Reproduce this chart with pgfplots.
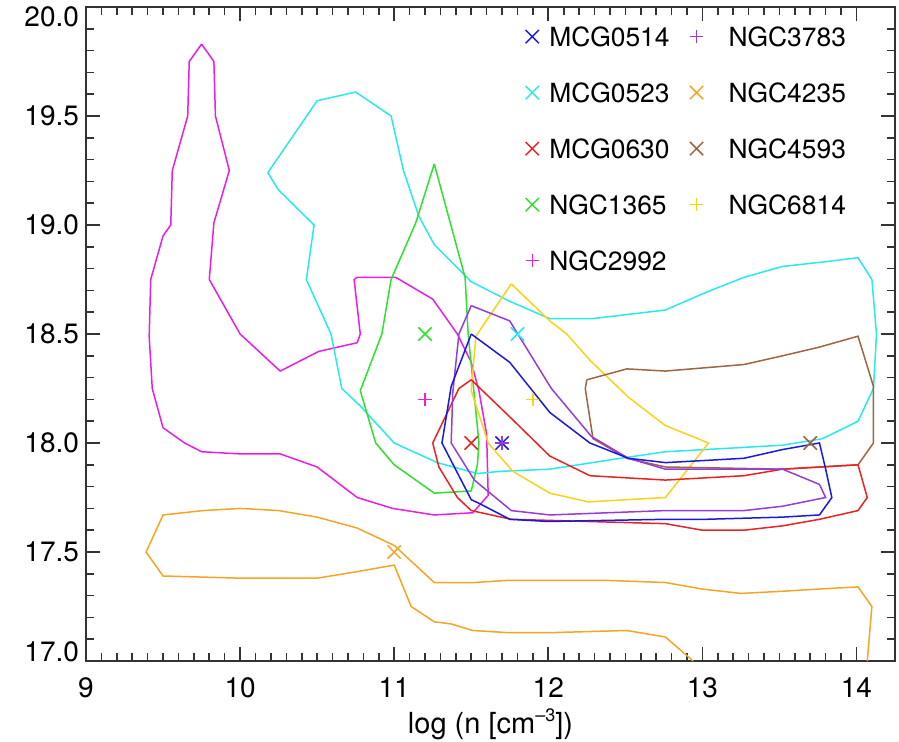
\documentclass[border=0pt]{standalone}
\usepackage{pgfplots}
\pgfplotsset{compat=1.18}
\usepackage{fontspec}
\setmainfont{TeX Gyre Heros}
\definecolor{cblue}{RGB}{25,25,225}
\definecolor{ccyan}{RGB}{40,232,240}
\definecolor{cred}{RGB}{232,35,35}
\definecolor{cgreen}{RGB}{45,225,45}
\definecolor{cmag}{RGB}{230,30,230}
\definecolor{cpurple}{RGB}{150,60,220}
\definecolor{corange}{RGB}{245,165,35}
\definecolor{cbrown}{RGB}{160,100,65}
\definecolor{cyellow}{RGB}{250,210,25}
\newcommand{\yl}[2]{\raisebox{#1}[0pt][0pt]{#2}}
\begin{document}
\begin{tikzpicture}
\path[use as bounding box] (-43pt,-40pt) rectangle (406.5pt,330.5pt);
\begin{axis}[
  at={(0pt,0pt)}, anchor=south west,
  width=404.5pt, height=327pt, scale only axis,
  xmin=9, xmax=14.25, ymin=17, ymax=20,
  xtick={9,10,11,12,13,14},
  ytick={17,17.5,18,18.5,19,19.5,20},
  yticklabels={\yl{0pt}{17.0},\yl{-4.9pt}{17.5},\yl{-4.9pt}{18.0},\yl{-4.9pt}{18.5},\yl{-4.9pt}{19.0},\yl{-4.9pt}{19.5},\yl{-9.7pt}{20.0}},
  minor x tick num=9, minor y tick num=4,
  major tick length=7pt, minor tick length=4pt,
  axis line style={line width=1pt, black!80},
  every tick/.style={line width=0.8pt, black!80},
  tick label style={font=\fontsize{14}{16}\selectfont},
  /pgf/number format/assume math mode=true,
  xticklabel style={yshift=-5pt},
  xlabel={log (n [cm\raisebox{0.75ex}{\fontsize{9}{9}\selectfont --3}])},
  xlabel style={font=\fontsize{14.5}{17}\selectfont, at={(axis description cs:0.5,0)}, anchor=base, yshift=-36pt},
  legend columns=2,
  legend cell align=left,
  legend image code/.code={\path[draw=none,fill=none] (0pt,-3pt) rectangle (11pt,3pt); \draw[mark repeat=2,mark phase=2,#1] plot coordinates {(0pt,0pt)(4.5pt,0pt)(9pt,0pt)};},
  legend style={draw=none, fill=none, inner sep=0pt, at={(0.540,0.976)}, anchor=north west,
    font=\fontsize{13.2}{15}\selectfont, row sep=14.5pt, column sep=0pt,
    nodes={inner sep=2pt, text height=9.5pt, text depth=0pt},
    /tikz/every even column/.append style={column sep=7pt}},
  every axis plot/.append style={line width=0.75pt},
  xmark/.style={only marks, mark=x, mark size=4.7pt},
  pmark/.style={only marks, mark=+, mark size=3.3pt},
]
% contours
\addplot[cmag, forget plot] coordinates {(9.75,19.83) (9.83,19.75) (9.84,19.50) (9.93,19.25) (9.83,19.01) (9.80,18.75) (10.00,18.50) (10.26,18.33) (10.51,18.42) (10.76,18.46) (10.78,18.50) (10.74,18.75) (10.76,18.76) (11.01,18.76) (11.25,18.66) (11.41,18.50) (11.50,18.37) (11.55,18.24) (11.60,18.04) (11.61,17.76) (11.51,17.68) (11.26,17.67) (10.99,17.70) (10.76,17.75) (10.50,17.89) (10.26,17.95) (10.00,17.95) (9.75,17.96) (9.64,18.00) (9.50,18.07) (9.43,18.25) (9.41,18.49) (9.42,18.75) (9.50,18.95) (9.55,19.00) (9.56,19.25) (9.66,19.50) (9.67,19.75) (9.75,19.83)};
\addplot[corange, forget plot] coordinates {(12.94,17.00) (12.76,17.11) (12.51,17.14) (12.01,17.13) (11.74,17.13) (11.51,17.14) (11.37,17.17) (11.26,17.18) (11.11,17.25) (11.00,17.44) (10.76,17.41) (10.50,17.38) (10.25,17.38) (10.00,17.38) (9.50,17.39) (9.39,17.50) (9.50,17.67) (9.76,17.69) (10.00,17.70) (10.25,17.69) (10.50,17.66) (10.76,17.61) (11.00,17.53) (11.26,17.36) (11.52,17.36) (11.74,17.37) (12.00,17.37) (12.37,17.37) (12.76,17.36) (13.00,17.33) (13.25,17.31) (13.52,17.32) (13.75,17.33) (14.01,17.34) (14.10,17.25) (14.07,17.00)};
\addplot[ccyan, forget plot] coordinates {(10.18,19.24) (10.50,19.57) (10.75,19.61) (10.98,19.50) (11.06,19.25) (11.16,19.04) (11.26,18.91) (11.50,18.74) (11.75,18.65) (12.01,18.57) (12.28,18.57) (12.76,18.61) (13.02,18.69) (13.27,18.76) (13.52,18.81) (13.78,18.83) (14.01,18.85) (14.10,18.75) (14.13,18.50) (14.11,18.25) (14.01,18.10) (13.78,18.02) (13.52,17.99) (13.27,17.98) (13.02,17.97) (12.76,17.96) (12.47,17.93) (12.01,17.88) (11.69,17.87) (11.54,17.86) (11.28,17.91) (11.00,18.00) (10.78,18.17) (10.66,18.25) (10.59,18.50) (10.43,18.75) (10.48,19.00) (10.25,19.16) (10.18,19.24)};
\addplot[cgreen, forget plot] coordinates {(11.26,19.28) (11.46,18.76) (11.48,18.50) (11.51,18.29) (11.55,18.00) (11.54,17.90) (11.50,17.78) (11.26,17.77) (11.00,17.90) (10.88,18.00) (10.78,18.24) (10.92,18.50) (10.98,18.75) (11.14,19.01) (11.26,19.28)};
\addplot[cyellow, forget plot] coordinates {(11.76,18.73) (12.01,18.56) (12.12,18.50) (12.27,18.38) (12.52,18.21) (12.76,18.08) (13.04,18.00) (12.76,17.75) (12.26,17.73) (12.01,17.77) (11.77,17.87) (11.61,18.00) (11.50,18.24) (11.53,18.49) (11.76,18.73)};
\addplot[cbrown, forget plot] coordinates {(12.25,18.29) (12.51,18.34) (12.76,18.33) (13.27,18.36) (13.52,18.40) (13.76,18.44) (14.01,18.49) (14.11,18.26) (14.11,18.00) (14.01,17.90) (13.52,17.88) (12.76,17.89) (12.51,17.93) (12.29,18.02) (12.24,18.25) (12.25,18.29)};
\addplot[cred, forget plot] coordinates {(11.50,18.29) (11.75,18.12) (12.01,17.94) (12.27,17.85) (12.76,17.83) (13.27,17.85) (13.52,17.88) (14.01,17.90) (14.07,17.75) (14.01,17.69) (13.76,17.65) (13.52,17.62) (13.27,17.60) (13.00,17.60) (12.76,17.63) (11.76,17.65) (11.50,17.69) (11.41,17.75) (11.29,17.89) (11.25,18.00) (11.42,18.25) (11.50,18.29)};
\addplot[cpurple, forget plot] coordinates {(11.50,18.63) (11.75,18.56) (12.02,18.25) (12.28,18.03) (12.52,17.93) (12.76,17.88) (13.02,17.88) (13.52,17.88) (13.76,17.81) (13.80,17.75) (13.52,17.71) (13.27,17.69) (12.76,17.69) (12.01,17.67) (11.76,17.69) (11.52,17.83) (11.37,18.00) (11.38,18.23) (11.42,18.50) (11.50,18.63)};
\addplot[cblue, forget plot] coordinates {(11.50,18.50) (11.75,18.37) (12.01,18.14) (12.27,18.00) (12.52,17.93) (12.76,17.91) (13.02,17.92) (13.27,17.93) (13.52,17.97) (13.76,18.00) (13.80,17.88) (13.84,17.75) (13.76,17.67) (13.52,17.66) (13.02,17.65) (12.76,17.65) (12.00,17.64) (11.75,17.65) (11.56,17.72) (11.50,17.74) (11.31,18.00) (11.37,18.26) (11.50,18.50)};
% best-fit markers (row-wise legend order)
\addplot[cblue, xmark] coordinates {(11.7,18.0)};
\addlegendentry{MCG0514}
\addplot[cpurple, pmark] coordinates {(11.7,18.0)};
\addlegendentry{\hspace{7.5pt}NGC3783}
\addplot[ccyan, xmark] coordinates {(11.8,18.5)};
\addlegendentry{MCG0523}
\addplot[corange, xmark] coordinates {(11.0,17.5)};
\addlegendentry{\hspace{7.5pt}NGC4235}
\addplot[cred, xmark] coordinates {(11.5,18.0)};
\addlegendentry{MCG0630}
\addplot[cbrown, xmark] coordinates {(13.7,18.0)};
\addlegendentry{\hspace{7.5pt}NGC4593}
\addplot[cgreen, xmark] coordinates {(11.2,18.5)};
\addlegendentry{NGC1365}
\addplot[cyellow, pmark] coordinates {(11.9,18.2)};
\addlegendentry{\hspace{7.5pt}NGC6814}
\addplot[cmag, pmark] coordinates {(11.2,18.2)};
\addlegendentry{NGC2992}
\end{axis}
\end{tikzpicture}
\end{document}
